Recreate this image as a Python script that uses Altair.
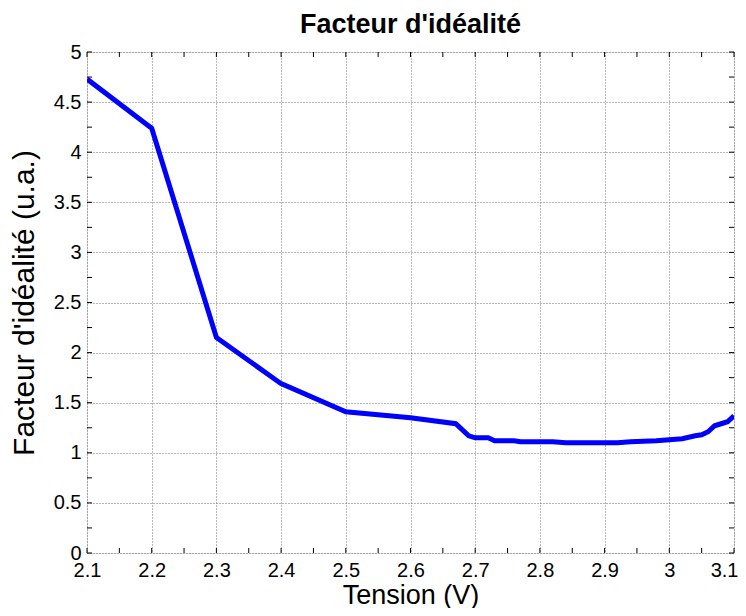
import altair as alt
import pandas as pd

# Data
tension = [2.1, 2.2, 2.3, 2.4, 2.5, 2.6, 2.67, 2.69, 2.7, 2.72, 2.73, 2.76, 2.77,
           2.82, 2.84, 2.92, 2.94, 2.98, 3.0, 3.02, 3.04, 3.05, 3.06, 3.07, 3.08,
           3.09, 3.1]
facteur = [4.73, 4.24, 2.15, 1.69, 1.41, 1.35, 1.29, 1.17, 1.15, 1.15, 1.12, 1.12,
           1.11, 1.11, 1.10, 1.10, 1.11, 1.12, 1.13, 1.14, 1.17, 1.18, 1.21, 1.27,
           1.29, 1.31, 1.37]

x_major = [2.1, 2.2, 2.3, 2.4, 2.5, 2.6, 2.7, 2.8, 2.9, 3.0, 3.1]
x_minor = [2.1, 2.15, 2.2, 2.25, 2.3, 2.35, 2.4, 2.45, 2.5, 2.55, 2.6, 2.65, 2.7,
           2.75, 2.8, 2.85, 2.9, 2.95, 3.0, 3.05, 3.1]
y_major = [0, 0.5, 1, 1.5, 2, 2.5, 3, 3.5, 4, 4.5, 5]
y_minor = [0, 0.25, 0.5, 0.75, 1, 1.25, 1.5, 1.75, 2, 2.25, 2.5, 2.75, 3, 3.25,
           3.5, 3.75, 4, 4.25, 4.5, 4.75, 5]
chart_title = ["Facteur d'idéalité"]

W, H = 647, 501
FONT = "Liberation Sans"

df = pd.DataFrame({"Tension": tension, "Facteur": facteur})
dfx = pd.DataFrame({"Tension": x_minor})
dfy = pd.DataFrame({"Facteur": y_minor})
dft = pd.DataFrame({"titre": chart_title})

xscale = alt.Scale(domain=[2.1, 3.1], nice=False, zero=False)
yscale = alt.Scale(domain=[0, 5], nice=False, zero=False)

xaxis = alt.Axis(values=x_major, format="~g", title="Tension (V)",
                 grid=True, gridDash=[1, 2], gridColor="#707070",
                 gridWidth=1, ticks=False, domain=False,
                 labelFontSize=20, labelPadding=7, labelColor="black",
                 labelFont=FONT, titleFont=FONT, titleFontSize=27,
                 titleFontWeight="normal", titleColor="black",
                 titleBaseline="alphabetic", titleY=50, labelFlush=False,
                 labelAlign=alt.condition("datum.value >= 3.09",
                                          alt.value("right"), alt.value("center")),
                 labelOffset=alt.condition("datum.value >= 3.09",
                                           alt.value(4), alt.value(0)))
yaxis = alt.Axis(values=y_major, format="~g",
                 title="Facteur d'idéalité (u.a.)",
                 grid=True, gridDash=[1, 2], gridColor="#707070",
                 gridWidth=1, ticks=False, domain=False,
                 labelFontSize=20, labelPadding=6, labelColor="black",
                 labelFont=FONT, titleFont=FONT, titleFontSize=30,
                 titleFontWeight="normal", titleColor="black",
                 titleBaseline="alphabetic", titleX=-54, titleY=H / 2,
                 labelFlush=False)

line = alt.Chart(df).mark_line(color="#0000ff", strokeWidth=5, clip=True).encode(
    x=alt.X("Tension:Q", scale=xscale, axis=xaxis),
    y=alt.Y("Facteur:Q", scale=yscale, axis=yaxis),
)

bx = alt.Chart(dfx).mark_rule(color="black", strokeWidth=1).encode(
    x=alt.X("Tension:Q", scale=xscale, axis=xaxis),
    y=alt.value(H), y2=alt.value(H - 5))
tx = alt.Chart(dfx).mark_rule(color="black", strokeWidth=1).encode(
    x=alt.X("Tension:Q", scale=xscale, axis=xaxis),
    y=alt.value(0), y2=alt.value(5))
ly = alt.Chart(dfy).mark_rule(color="black", strokeWidth=1).encode(
    y=alt.Y("Facteur:Q", scale=yscale, axis=yaxis),
    x=alt.value(0), x2=alt.value(5))
ry = alt.Chart(dfy).mark_rule(color="black", strokeWidth=1).encode(
    y=alt.Y("Facteur:Q", scale=yscale, axis=yaxis),
    x=alt.value(W), x2=alt.value(W - 5))

title_txt = alt.Chart(dft).mark_text(
    font=FONT, fontSize=27, fontWeight="bold", color="black",
    align="center", baseline="alphabetic").encode(
    text="titre:N", x=alt.value(W / 2), y=alt.value(-19))

chart = alt.layer(line, bx, tx, ly, ry, title_txt).properties(
    width=W, height=H,
    autosize=alt.AutoSizeParams(type="none"),
    padding={"left": 79, "top": 44, "right": 4, "bottom": 55},
).configure_view(stroke="black", strokeWidth=2).configure(background="white")

chart.save("out.html", embed_options={"renderer": "svg", "actions": False})
